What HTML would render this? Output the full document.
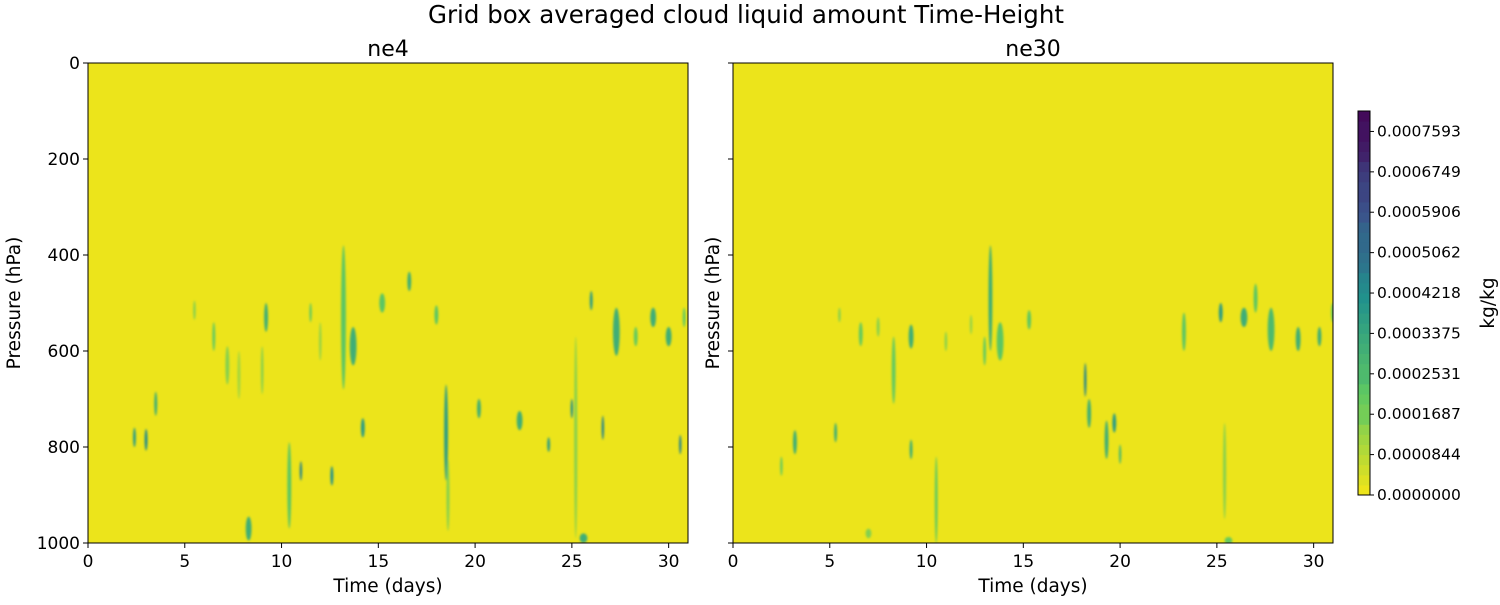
<!DOCTYPE html>
<html><head><meta charset="utf-8"><style>
body{margin:0;background:#fff;}
svg text{font-family:"DejaVu Sans","Liberation Sans",sans-serif;fill:#000;}
</style></head><body>
<svg id="chart" width="1500" height="600" xmlns="http://www.w3.org/2000/svg">
<defs><filter id="bl" x="-50%" y="-50%" width="200%" height="200%"><feGaussianBlur stdDeviation="1.0"/></filter>
<clipPath id="c0"><rect x="88" y="63" width="600" height="480"/></clipPath>
<clipPath id="c1"><rect x="733" y="63" width="600" height="480"/></clipPath></defs>
<text x="746" y="23" font-size="24.5" text-anchor="middle">Grid box averaged cloud liquid amount Time-Height</text>
<g id="root"></g>
</svg>
<script>
// [day, pressure, widthDays, heightHPa, value(kg/kg)]
const ne4Blobs=[[2.4,780,0.15,40,0.00035],[3.0,785,0.15,45,0.00042],[3.5,710,0.15,50,0.0003],[5.5,515,0.1,40,0.00015],[6.5,570,0.15,60,0.00018],[7.2,630,0.2,80,0.00015],[7.8,650,0.15,100,0.0001],[8.3,970,0.3,50,0.0003],[9.2,530,0.2,60,0.0003],[10.4,880,0.2,180,0.00022],[11.0,850,0.12,40,0.00045],[11.5,520,0.1,40,0.0002],[12.6,860,0.15,40,0.0004],[13.2,530,0.25,300,0.00022],[13.7,590,0.35,80,0.0003],[14.2,760,0.2,40,0.00035],[15.2,500,0.3,40,0.00022],[16.6,455,0.2,40,0.0003],[18.0,525,0.2,40,0.00022],[18.5,770,0.2,200,0.00035],[18.6,900,0.15,150,0.00015],[20.2,720,0.2,40,0.0003],[22.3,745,0.3,40,0.0003],[23.8,795,0.15,30,0.00035],[25.2,780,0.15,420,0.00015],[25.0,720,0.12,40,0.0004],[25.6,990,0.4,20,0.0003],[26.0,495,0.15,40,0.00035],[26.6,760,0.12,50,0.00045],[27.3,560,0.35,100,0.0003],[28.3,570,0.2,40,0.0002],[29.2,530,0.3,40,0.0003],[30.0,570,0.3,40,0.0003],[30.6,795,0.12,40,0.00045],[30.8,530,0.15,40,0.0002],[9.0,640,0.12,100,0.00015],[12.0,580,0.12,80,0.00012]];
const ne30Blobs=[[2.5,840,0.12,40,0.0002],[3.2,790,0.2,50,0.0003],[5.3,770,0.15,40,0.0003],[5.5,525,0.1,30,0.00015],[6.6,565,0.2,50,0.0002],[7.5,550,0.15,40,0.00015],[8.3,640,0.2,140,0.0002],[9.2,570,0.25,50,0.0003],[9.2,805,0.15,40,0.0003],[10.5,910,0.15,180,0.0002],[11.0,580,0.12,40,0.00015],[12.3,545,0.12,40,0.00012],[13.0,600,0.15,60,0.0002],[13.3,490,0.2,220,0.0003],[13.8,580,0.35,80,0.00022],[15.3,535,0.2,40,0.00022],[18.2,660,0.08,70,0.00045],[18.4,730,0.2,60,0.0003],[19.3,785,0.2,80,0.0003],[19.7,750,0.2,40,0.00035],[20.0,815,0.12,40,0.00025],[23.3,560,0.2,80,0.00022],[25.2,520,0.2,40,0.00035],[25.4,850,0.15,200,0.00015],[26.4,530,0.35,40,0.0003],[27.0,490,0.2,60,0.00022],[27.8,555,0.35,90,0.00025],[29.2,575,0.25,50,0.0003],[30.3,570,0.2,40,0.0003],[31.0,520,0.2,40,0.0002],[7.0,980,0.3,20,0.00015],[25.6,995,0.4,15,0.0002]];
const xTicks=[0,5,10,15,20,25,30];
const yTicks=[0,200,400,600,800,1000];
const cbTicks=["0.0000000","0.0000844","0.0001687","0.0002531","0.0003375","0.0004218","0.0005062","0.0005906","0.0006749","0.0007593"];
const vmax=0.000802;
const NS='http://www.w3.org/2000/svg';
const root=document.getElementById('root');
function mk(t,a,p){const e=document.createElementNS(NS,t);for(const k in a)e.setAttribute(k,a[k]);(p||root).appendChild(e);return e;}
const vir=[[68,1,84],[59,82,139],[33,145,140],[94,201,98],[236,228,27]];
function col(v){let t=1-Math.min(1,Math.max(0,v/vmax));t=Math.round(t*38)/38;const s=t*4,i=Math.min(3,Math.floor(s)),f=s-i;const a=vir[i],b=vir[i+1];return 'rgb('+a.map((c,k)=>Math.round(c+(b[k]-c)*f)).join(',')+')';}
function panel(x0,blobs,title,clip,showY,nm){
 const xs=d=>x0+d*600/31, ys=p=>63+p*0.48;
 const g=mk('g',{});
 
 
 const bg=mk('rect',{x:x0,y:63,width:600,height:480,fill:col(0)},g);
 
 
 const cg=mk('g',{'clip-path':'url(#'+clip+')',filter:'url(#bl)'},g);
 blobs.forEach(b=>{
  const e=mk('ellipse',{cx:xs(b[0]),cy:ys(b[1]),rx:Math.max(1.2,b[2]*600/31/2),ry:b[3]*0.48/2,fill:col(b[4])},cg);
  
  
 });
 const fr=mk('rect',{x:x0,y:63,width:600,height:480,fill:'none',stroke:'#000','stroke-width':1},g);
 
 
 xTicks.forEach(t=>{const X=xs(t);mk('line',{x1:X,x2:X,y1:543,y2:548,stroke:'#000'},g);
  const tx=mk('text',{x:X,y:567,'font-size':17,'text-anchor':'middle'},g);tx.textContent=t;
  
  });
 yTicks.forEach(t=>{const Y=ys(t);mk('line',{x1:x0-5,x2:x0,y1:Y,y2:Y,stroke:'#000'},g);
  if(showY){const tx=mk('text',{x:x0-8,y:Y+6,'font-size':17,'text-anchor':'end'},g);tx.textContent=t;
  
  }});
 const tt=mk('text',{x:x0+300,y:56,'font-size':22,'text-anchor':'middle'},g);tt.textContent=title;
 
 
 const xl=mk('text',{x:x0+300,y:592,'font-size':18.5,'text-anchor':'middle'},g);xl.textContent='Time (days)';
 
 
 const lx=showY?20:719;
 const yl=mk('text',{x:lx,y:303,'font-size':18.5,'text-anchor':'middle',transform:'rotate(-90 '+lx+' 303)'},g);yl.textContent='Pressure (hPa)';
 
 
}
panel(88,ne4Blobs,'ne4','c0',true,'ne4');
panel(733,ne30Blobs,'ne30','c1',false,'ne30');
// colorbar
const cb=mk('g',{});


const cy=v=>495-v/vmax*384;
for(let i=0;i<38;i++){const v0=i*vmax/38,v1=(i+1)*vmax/38;mk('rect',{x:1358,y:cy(v1),width:12,height:cy(v0)-cy(v1)+0.5,fill:col((v0+v1)/2)},cb);}
mk('rect',{x:1358,y:111,width:12,height:384,fill:'none',stroke:'#000'},cb);
cbTicks.forEach(s=>{const Y=cy(parseFloat(s));mk('line',{x1:1370,x2:1374,y1:Y,y2:Y,stroke:'#000'},cb);
 const t=mk('text',{x:1377,y:Y+5,'font-size':15.5},cb);t.textContent=s;
 
 });
const cl=mk('text',{x:1494,y:303,'font-size':18.5,'text-anchor':'middle',transform:'rotate(-90 1494 303)'},cb);cl.textContent='kg/kg';


</script>
</body></html>
